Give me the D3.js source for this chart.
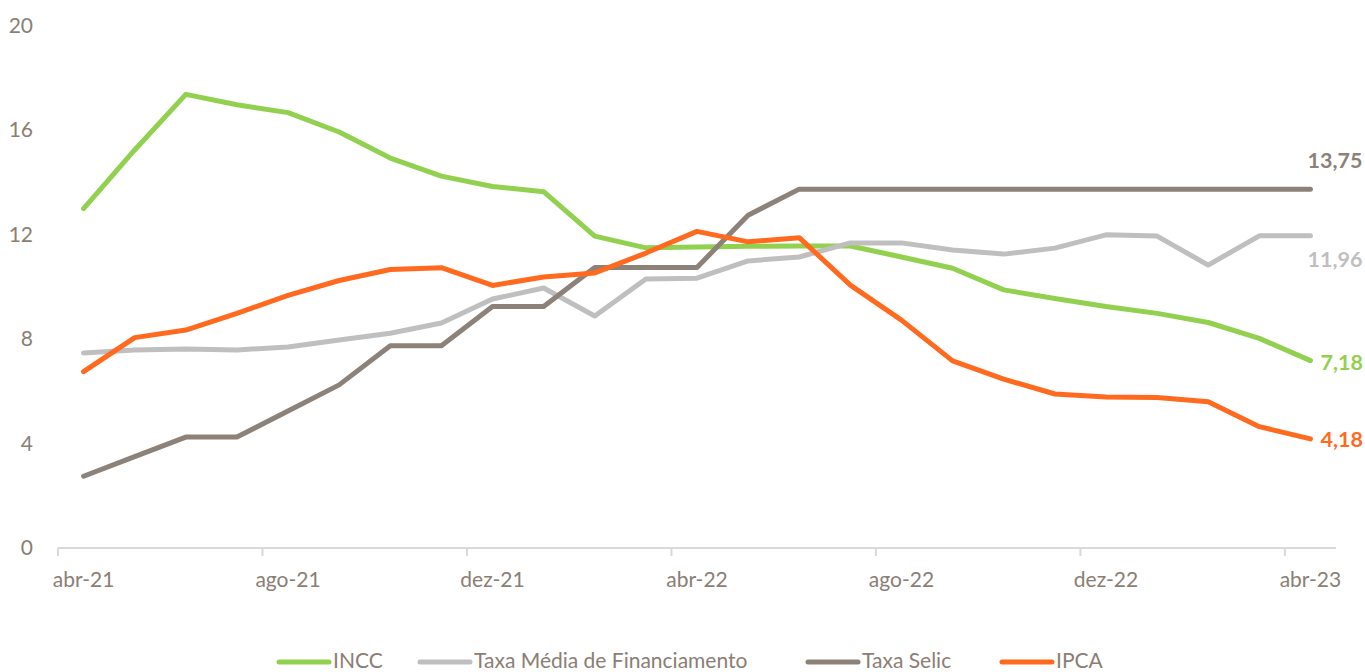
<!DOCTYPE html>
<html><head><meta charset="utf-8">
<script src="https://cdn.jsdelivr.net/npm/d3@7"></script>
<style>html,body{margin:0;padding:0;background:#fff;}svg{display:block;font-family:Lato,"Open Sans",sans-serif;}</style>
</head><body>
<script>
const months = ["abr-21","mai-21","jun-21","jul-21","ago-21","set-21","out-21","nov-21","dez-21","jan-22","fev-22","mar-22","abr-22","mai-22","jun-22","jul-22","ago-22","set-22","out-22","nov-22","dez-22","jan-23","fev-23","mar-23","abr-23"];
const tickLabels = ["abr-21","ago-21","dez-21","abr-22","ago-22","dez-22","abr-23"];
const yTicks = [0,4,8,12,16,20];
const incc = [13.0,15.25,17.38,16.98,16.68,15.94,14.94,14.25,13.85,13.65,11.95,11.5,11.53,11.56,11.57,11.57,11.15,10.72,9.89,9.56,9.25,8.99,8.64,8.03,7.18];
const taxaMedia = [7.47,7.59,7.62,7.59,7.7,7.97,8.23,8.62,9.54,9.96,8.89,10.31,10.34,11.0,11.15,11.69,11.69,11.42,11.26,11.49,12.0,11.95,10.84,11.96,11.96];
const selic = [2.75,3.5,4.25,4.25,5.25,6.25,7.75,7.75,9.25,9.25,10.75,10.75,10.75,12.75,13.75,13.75,13.75,13.75,13.75,13.75,13.75,13.75,13.75,13.75,13.75];
const ipca = [6.76,8.06,8.35,8.99,9.68,10.25,10.67,10.74,10.06,10.38,10.54,11.30,12.13,11.73,11.89,10.07,8.73,7.17,6.47,5.90,5.79,5.77,5.60,4.65,4.18];
const seriesNames = ["INCC","Taxa Média de Financiamento","Taxa Selic","IPCA"];
const seriesColors = ["#92D050","#BFBFBF","#8C8279","#FF6A1E"];
const seriesData = [incc, taxaMedia, selic, ipca];
const endLabels = ["7,18","11,96","13,75","4,18"];

const W=1365,H=672;
const svg=d3.select("body").append("svg").attr("width",W).attr("height",H);
const x=d3.scaleBand().domain(months).range([58,1336]);
const y=d3.scaleLinear().domain([0,20]).range([548,26]);
const textCol="#8B7E74";

// x axis
const gx=svg.append("g").attr("transform","translate(0,548)");
gx.append("line").attr("x1",58).attr("x2",1336).attr("y1",0).attr("y2",0).attr("stroke","#D9D9D9").attr("stroke-width",2);
gx.selectAll(".tk").data(tickLabels).enter().append("line")
  .attr("x1",d=>x(d)).attr("x2",d=>x(d)).attr("y1",0).attr("y2",8).attr("stroke","#D9D9D9").attr("stroke-width",2);
gx.selectAll(".tl").data(tickLabels).enter().append("text")
  .attr("x",d=>x(d)+x.bandwidth()/2).attr("y",39).attr("text-anchor","middle")
  .attr("fill",textCol).attr("font-size",21).text(d=>d);

// y axis labels
svg.selectAll(".yl").data(yTicks).enter().append("text")
  .attr("x",33).attr("y",d=>y(d)+7).attr("text-anchor","end")
  .attr("fill",textCol).attr("font-size",21).text(d=>d);

const line=d3.line().x((d,i)=>x(months[i])+x.bandwidth()/2).y(d=>y(d));
seriesData.forEach((s,k)=>{
  svg.append("path").datum(s).attr("d",line).attr("fill","none")
    .attr("stroke",seriesColors[k]).attr("stroke-width",5)
    .attr("stroke-linecap","round").attr("stroke-linejoin","round");
});

// end labels
const lastX=x(months[24])+x.bandwidth()/2;
const lab=[
  {k:2,dx:-3,dy:-21,t:endLabels[2]},
  {k:1,dx:-3,dy:31,t:endLabels[1]},
  {k:0,dx:10,dy:9,t:endLabels[0]},
  {k:3,dx:10,dy:8.5,t:endLabels[3]}
];
lab.forEach(l=>{
  svg.append("text").attr("x",lastX+l.dx).attr("y",y(seriesData[l.k][24])+l.dy)
    .attr("fill",seriesColors[l.k]).attr("font-size",21.5).attr("font-weight","bold").text(l.t);
});

// legend
const legX=[277,418,806,1000];
seriesNames.forEach((n,k)=>{
  const g=svg.append("g");
  g.append("line").attr("x1",legX[k]+2).attr("x2",legX[k]+52).attr("y1",662).attr("y2",662)
    .attr("stroke",seriesColors[k]).attr("stroke-width",5).attr("stroke-linecap","round");
  g.append("text").attr("x",legX[k]+56).attr("y",668).attr("fill",textCol).attr("font-size",21).text(n);
});
</script>
</body></html>
